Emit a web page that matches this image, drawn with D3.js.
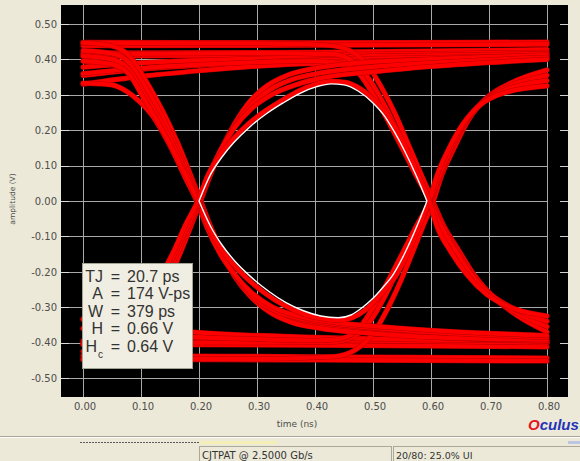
<!DOCTYPE html>
<html>
<head>
<meta charset="utf-8">
<script src="https://cdn.jsdelivr.net/npm/d3@7"></script>
<style>
  body { margin: 0; background: #ece9d8; }
  svg { display: block; font-family: "DejaVu Sans", sans-serif; }
</style>
</head>
<body>
<script>
// axis ticks
const timeTicks = [0, 0.1, 0.2, 0.3, 0.4, 0.5, 0.6, 0.7, 0.8];
const ampTicks = [0.5, 0.4, 0.3, 0.2, 0.1, 0, -0.1, -0.2, -0.3, -0.4, -0.5];

// eye traces, [time (ns), amplitude (V)]
const highRail1 = [[0, 0.448], [0.4, 0.447], [0.8, 0.449]];
const highRail2 = [[0, 0.439], [0.4, 0.44], [0.8, 0.443]];
const highRail3 = [[0, 0.418], [0.4, 0.42], [0.8, 0.428]];
const highRail4 = [[0, 0.409], [0.4, 0.413], [0.8, 0.42]];
const highSettle1 = [[0, 0.378], [0.1, 0.39], [0.2, 0.397], [0.3, 0.402], [0.5, 0.409], [0.8, 0.416]];
const highSettle2 = [[0, 0.355], [0.1, 0.372], [0.2, 0.383], [0.3, 0.392], [0.5, 0.402], [0.8, 0.41]];
const highSettle3 = [[0, 0.33], [0.1, 0.352], [0.2, 0.368], [0.3, 0.381], [0.5, 0.395], [0.8, 0.404]];

const lowRail1 = [[0, -0.395], [0.4, -0.397], [0.8, -0.4]];
const lowRail2 = [[0, -0.405], [0.4, -0.407], [0.8, -0.412]];
const lowRail3 = [[0, -0.437], [0.4, -0.44], [0.8, -0.444]];
const lowRail4 = [[0, -0.448], [0.4, -0.449], [0.8, -0.452]];
const lowSettle1 = [[0, -0.36], [0.1, -0.375], [0.2, -0.385], [0.4, -0.393], [0.8, -0.4]];
const lowSettle2 = [[0, -0.335], [0.1, -0.357], [0.2, -0.372], [0.4, -0.385], [0.8, -0.395]];

const fallAt02Hi = [[0, 0.447], [0.05, 0.438], [0.08, 0.41], [0.11, 0.335], [0.137, 0.255], [0.163, 0.165], [0.184, 0.08], [0.203, 0], [0.222, -0.08], [0.245, -0.16], [0.27, -0.23], [0.3, -0.285], [0.34, -0.325], [0.4, -0.352], [0.46, -0.365], [0.55, -0.378], [0.65, -0.388], [0.8, -0.395]];
const fallAt02Mid = [[0, 0.409], [0.05, 0.4], [0.08, 0.37], [0.105, 0.305], [0.132, 0.23], [0.158, 0.15], [0.18, 0.073], [0.2, 0], [0.218, -0.075], [0.24, -0.15], [0.264, -0.215], [0.293, -0.27], [0.33, -0.31], [0.39, -0.337], [0.46, -0.352], [0.56, -0.366], [0.8, -0.385]];
const fallAt02Mid2 = [[0, 0.425], [0.05, 0.417], [0.08, 0.39], [0.108, 0.32], [0.135, 0.243], [0.16, 0.158], [0.182, 0.077], [0.202, 0], [0.218, -0.073], [0.238, -0.145], [0.261, -0.212], [0.289, -0.27], [0.321, -0.313], [0.36, -0.343], [0.41, -0.36], [0.48, -0.372], [0.58, -0.383], [0.8, -0.392]];
const fallAt02Low = [[0, 0.333], [0.028, 0.331], [0.05, 0.328], [0.075, 0.31], [0.1, 0.277], [0.12, 0.24], [0.137, 0.195], [0.155, 0.14], [0.175, 0.07], [0.196, 0], [0.214, -0.075], [0.235, -0.145], [0.26, -0.205], [0.29, -0.258], [0.325, -0.298], [0.37, -0.325], [0.43, -0.342], [0.52, -0.356], [0.65, -0.37], [0.8, -0.38]];
const fallAt02RiseAt06 = [[0, 0.395], [0.05, 0.386], [0.08, 0.357], [0.103, 0.295], [0.13, 0.22], [0.155, 0.145], [0.177, 0.072], [0.198, 0], [0.216, -0.074], [0.235, -0.128], [0.257, -0.175], [0.285, -0.222], [0.315, -0.262], [0.346, -0.294], [0.377, -0.317], [0.41, -0.332], [0.44, -0.337], [0.465, -0.329], [0.485, -0.31], [0.504, -0.281], [0.52, -0.252], [0.54, -0.21], [0.561, -0.143], [0.58, -0.07], [0.597, 0], [0.61, 0.07], [0.63, 0.145], [0.654, 0.215], [0.684, 0.27], [0.725, 0.305], [0.8, 0.325]];

const riseAt02Low = [[0, -0.447], [0.05, -0.438], [0.08, -0.41], [0.11, -0.335], [0.137, -0.255], [0.163, -0.165], [0.184, -0.08], [0.203, 0], [0.22, 0.075], [0.24, 0.15], [0.262, 0.22], [0.287, 0.28], [0.317, 0.325], [0.352, 0.355], [0.4, 0.375], [0.46, 0.388], [0.55, 0.397], [0.8, 0.412]];
const riseAt02Mid = [[0, -0.405], [0.05, -0.396], [0.08, -0.368], [0.105, -0.305], [0.132, -0.23], [0.158, -0.15], [0.18, -0.073], [0.2, 0], [0.216, 0.07], [0.236, 0.14], [0.26, 0.205], [0.29, 0.26], [0.325, 0.3], [0.37, 0.33], [0.42, 0.35], [0.5, 0.365], [0.6, 0.38], [0.8, 0.4]];
const riseAt02Mid2 = [[0, -0.425], [0.05, -0.417], [0.08, -0.39], [0.108, -0.32], [0.135, -0.243], [0.16, -0.158], [0.182, -0.077], [0.202, 0], [0.218, 0.073], [0.238, 0.145], [0.261, 0.212], [0.289, 0.27], [0.321, 0.313], [0.36, 0.343], [0.41, 0.362], [0.48, 0.376], [0.58, 0.388], [0.8, 0.406]];
const riseAt02FallAt06 = [[0, -0.333], [0.04, -0.33], [0.062, -0.322], [0.08, -0.303], [0.1, -0.275], [0.115, -0.248], [0.135, -0.207], [0.157, -0.14], [0.176, -0.07], [0.198, 0], [0.216, 0.075], [0.235, 0.127], [0.256, 0.17], [0.284, 0.216], [0.312, 0.252], [0.343, 0.284], [0.373, 0.312], [0.402, 0.33], [0.428, 0.338], [0.452, 0.335], [0.478, 0.317], [0.503, 0.283], [0.524, 0.245], [0.541, 0.2], [0.559, 0.143], [0.579, 0.07], [0.597, 0], [0.61, -0.07], [0.633, -0.14], [0.663, -0.21], [0.697, -0.265], [0.745, -0.305], [0.8, -0.325]];

const fallAt06Hi = [[0, 0.446], [0.3, 0.445], [0.42, 0.44], [0.46, 0.425], [0.49, 0.385], [0.515, 0.32], [0.54, 0.24], [0.562, 0.155], [0.583, 0.075], [0.603, 0], [0.622, -0.07], [0.648, -0.14], [0.675, -0.21], [0.71, -0.275], [0.75, -0.325], [0.8, -0.37]];
const fallAt06Mid = [[0, 0.415], [0.3, 0.418], [0.43, 0.415], [0.465, 0.395], [0.493, 0.345], [0.52, 0.27], [0.547, 0.18], [0.57, 0.095], [0.6, 0], [0.62, -0.07], [0.645, -0.14], [0.672, -0.21], [0.705, -0.27], [0.75, -0.318], [0.8, -0.355]];
const fallAt06Settle = [[0, 0.36], [0.1, 0.375], [0.2, 0.385], [0.3, 0.392], [0.4, 0.395], [0.44, 0.39], [0.47, 0.37], [0.497, 0.31], [0.523, 0.235], [0.55, 0.15], [0.575, 0.07], [0.598, 0], [0.617, -0.07], [0.642, -0.14], [0.668, -0.205], [0.7, -0.26], [0.75, -0.31], [0.8, -0.34]];

const riseAt06Low = [[0, -0.447], [0.3, -0.446], [0.43, -0.44], [0.47, -0.42], [0.5, -0.375], [0.525, -0.305], [0.548, -0.225], [0.567, -0.15], [0.586, -0.072], [0.604, 0], [0.618, 0.07], [0.64, 0.15], [0.665, 0.23], [0.695, 0.29], [0.74, 0.335], [0.8, 0.37]];
const riseAt06Mid = [[0, -0.4], [0.3, -0.4], [0.43, -0.398], [0.465, -0.385], [0.495, -0.34], [0.522, -0.265], [0.548, -0.175], [0.571, -0.09], [0.6, 0], [0.616, 0.07], [0.637, 0.15], [0.662, 0.228], [0.692, 0.285], [0.735, 0.325], [0.8, 0.355]];
const riseAt06Settle = [[0, -0.36], [0.1, -0.375], [0.2, -0.385], [0.3, -0.39], [0.4, -0.394], [0.44, -0.39], [0.47, -0.37], [0.497, -0.31], [0.523, -0.235], [0.55, -0.15], [0.575, -0.07], [0.598, 0], [0.614, 0.07], [0.634, 0.148], [0.658, 0.222], [0.688, 0.278], [0.73, 0.315], [0.8, 0.34]];

// inner eye contour (white)
const eyeTopEdge = [[0.2, 0], [0.22, 0.075], [0.24, 0.125], [0.26, 0.165], [0.288, 0.21], [0.315, 0.245], [0.345, 0.277], [0.375, 0.305], [0.403, 0.323], [0.428, 0.331], [0.45, 0.328], [0.475, 0.31], [0.5, 0.277], [0.52, 0.24], [0.537, 0.195], [0.555, 0.14], [0.575, 0.07], [0.593, 0]];
const eyeBottomEdge = [[0.2, 0], [0.22, -0.072], [0.24, -0.125], [0.262, -0.17], [0.29, -0.215], [0.32, -0.255], [0.35, -0.287], [0.38, -0.31], [0.41, -0.325], [0.44, -0.33], [0.462, -0.322], [0.48, -0.303], [0.5, -0.275], [0.515, -0.248], [0.535, -0.207], [0.557, -0.14], [0.576, -0.07], [0.593, 0]];

// measurement box
const statLabels = ["TJ", "A", "W", "H", "H"];
const statSubs = ["", "", "", "", "c"];
const statValues = ["20.7 ps", "174 V-ps", "379 ps", "0.66 V", "0.64 V"];

const statusTexts = ["CJTPAT @ 2.5000 Gb/s", "20/80: 25.0% UI"];

const traces = [
  highRail1, highRail2, highRail3, highRail4,
  lowRail1, lowRail2, lowRail3, lowRail4,
  highSettle1, highSettle2, highSettle3, lowSettle1, lowSettle2,
  fallAt06Hi, fallAt06Mid, fallAt06Settle,
  riseAt06Low, riseAt06Mid, riseAt06Settle,
  fallAt02Hi, fallAt02Mid2, fallAt02Mid, fallAt02Low, fallAt02RiseAt06,
  riseAt02Low, riseAt02Mid2, riseAt02Mid, riseAt02FallAt06
];

let svg = null, x = null, y = null;
let frame = null;

setupCanvas();
setupScales();
appendFrame();
appendGrid();
appendAxes();
appendTraces();
appendEyeEdges();
appendStatsBox();
appendStatusBar();
appendLogo();

function setupCanvas() {
  frame = {left: 61, right: 568, top: 5, bottom: 397};
  svg = d3.select("body").append("svg")
    .attr("width", 580)
    .attr("height", 461);
}

function setupScales() {
  x = d3.scaleLinear().domain([0, 0.8]).range([83, 547]);
  y = d3.scaleLinear().domain([-0.5, 0.5]).range([378, 24]);
}

function appendFrame() {
  svg.append("rect")
    .attr("x", frame.left).attr("y", frame.top)
    .attr("width", frame.right - frame.left)
    .attr("height", frame.bottom - frame.top)
    .attr("fill", "#000");
}

function appendGrid() {
  const g = svg.append("g").attr("stroke", "#a9a9a9").attr("stroke-width", 1);
  g.selectAll(".hgrid").data(ampTicks).enter().append("line")
    .attr("x1", frame.left).attr("x2", x(0.8) + 0.5)
    .attr("y1", d => Math.round(y(d)) + 0.5).attr("y2", d => Math.round(y(d)) + 0.5);
  g.selectAll(".vgrid").data(timeTicks).enter().append("line")
    .attr("x1", d => Math.round(x(d)) + 0.5).attr("x2", d => Math.round(x(d)) + 0.5)
    .attr("y1", frame.top).attr("y2", frame.bottom);
  // short tick marks at both edges
  g.selectAll(".ltick").data(ampTicks).enter().append("line")
    .attr("stroke", "#dcdcdc")
    .attr("x1", frame.left).attr("x2", frame.left + 8)
    .attr("y1", d => Math.round(y(d)) + 0.5).attr("y2", d => Math.round(y(d)) + 0.5);
  g.selectAll(".rtick").data(ampTicks).enter().append("line")
    .attr("stroke", "#cfcfcf")
    .attr("x1", frame.right - 8).attr("x2", frame.right)
    .attr("y1", d => Math.round(y(d)) + 0.5).attr("y2", d => Math.round(y(d)) + 0.5);
}

function appendAxes() {
  const yAxis = svg.append("g")
    .attr("transform", `translate(${frame.left}, 0)`)
    .call(d3.axisLeft(y).tickValues(ampTicks).tickFormat(d => d.toFixed(2)).tickSize(0).tickPadding(4));
  const xAxis = svg.append("g")
    .attr("transform", `translate(1.5, ${frame.bottom})`)
    .call(d3.axisBottom(x).tickValues(timeTicks).tickFormat(d => d.toFixed(2)).tickSize(0).tickPadding(6));
  [xAxis, yAxis].forEach(a => {
    a.select(".domain").remove();
    a.selectAll("text").attr("fill", "#4d4d4d").style("font-size", "10px")
      .style("font-family", "DejaVu Sans, sans-serif");
  });

  svg.append("text")
    .attr("x", 297).attr("y", 427)
    .attr("text-anchor", "middle")
    .attr("fill", "#4d4d4d")
    .style("font-size", "9px")
    .text("time (ns)");

  svg.append("text")
    .attr("transform", "translate(15, 199) rotate(-90)")
    .attr("text-anchor", "middle")
    .attr("fill", "#4d4d4d")
    .style("font-size", "7.5px")
    .text("amplitude (V)");
}

function appendTraces() {
  const line = d3.line()
    .x(d => x(d[0]))
    .y(d => y(d[1]))
    .curve(d3.curveMonotoneX);
  const g = svg.append("g").attr("fill", "none").attr("stroke-linecap", "round");
  traces.forEach(t => {
    g.append("path").attr("d", line(t)).attr("stroke", "#b80000").attr("stroke-width", 5.2);
    g.append("path").attr("d", line(t)).attr("stroke", "#ff0000").attr("stroke-width", 4.2);
  });
}

function appendEyeEdges() {
  const line = d3.line()
    .x(d => x(d[0]))
    .y(d => y(d[1]))
    .curve(d3.curveMonotoneX);
  svg.selectAll(".edge").data([eyeTopEdge, eyeBottomEdge]).enter().append("path")
    .attr("d", line)
    .attr("fill", "none")
    .attr("stroke", "#ffffff")
    .attr("stroke-width", 1.4);
}

function appendStatsBox() {
  const g = svg.append("g").style("font-family", "Liberation Sans, Arial, sans-serif")
    .style("font-size", "16px").attr("fill", "#333");
  g.append("rect")
    .attr("x", 82.5).attr("y", 263.5).attr("width", 110).attr("height", 105)
    .attr("fill", "#f0eee2").attr("stroke", "#a5a392");
  const rowY = d3.scaleLinear().domain([0, 4]).range([282, 351.5]);
  const rows = g.selectAll(".stat").data(statLabels).enter().append("g");
  rows.append("text")
    .attr("x", 103).attr("y", (d, i) => rowY(i))
    .attr("text-anchor", "end")
    .each(function(d, i) {
      const t = d3.select(this);
      t.append("tspan").text(d);
      if (statSubs[i]) {
        t.append("tspan").attr("dy", 6).attr("dx", 1).style("font-size", "10px").text(statSubs[i]);
      }
    });
  rows.append("text")
    .attr("x", 115.5).attr("y", (d, i) => rowY(i))
    .attr("text-anchor", "middle")
    .text("=");
  rows.append("text")
    .attr("x", 127).attr("y", (d, i) => rowY(i))
    .text((d, i) => statValues[i]);
}

function appendStatusBar() {
  svg.append("line").attr("x1", 0).attr("x2", 580).attr("y1", 436.5).attr("y2", 436.5)
    .attr("stroke", "#a7a493");
  svg.append("line").attr("x1", 0).attr("x2", 580).attr("y1", 437.5).attr("y2", 437.5)
    .attr("stroke", "#ffffff");
  svg.append("line").attr("x1", 80).attr("x2", 200).attr("y1", 442.5).attr("y2", 442.5)
    .attr("stroke", "#5a5a5a").attr("stroke-dasharray", "2,1");
  svg.append("rect").attr("x", 200).attr("y", 441).attr("width", 77).attr("height", 3)
    .attr("fill", "#f3efb5");
  svg.append("rect").attr("x", 568).attr("y", 441).attr("width", 12).attr("height", 3)
    .attr("fill", "#bcc6e2");

  const panels = [{x: 199.5, w: 192}, {x: 393.5, w: 190}];
  panels.forEach((p, i) => {
    svg.append("rect").attr("x", p.x).attr("y", 446.5).attr("width", p.w).attr("height", 17)
      .attr("fill", "none").attr("stroke", "#aca899");
    svg.append("text")
      .attr("x", p.x + 2.5).attr("y", 459)
      .attr("fill", "#333")
      .style("font-size", i === 0 ? "10px" : "9.5px")
      .text(statusTexts[i]);
  });
}

function appendLogo() {
  const t = svg.append("text")
    .attr("x", 528).attr("y", 430)
    .style("font-family", "Liberation Sans, Arial, sans-serif")
    .style("font-size", "15px")
    .style("font-weight", "bold")
    .style("font-style", "italic");
  t.append("tspan").attr("fill", "#e3161d").text("O");
  t.append("tspan").attr("fill", "#2433b8").text("culus");
}
</script>
</body>
</html>
